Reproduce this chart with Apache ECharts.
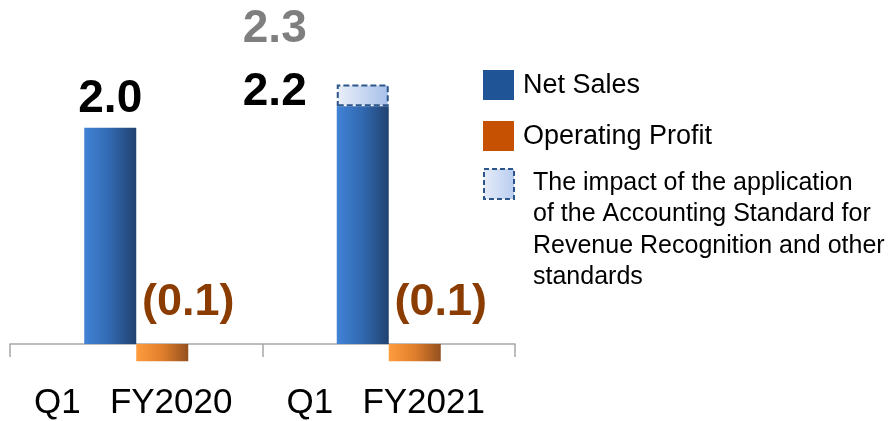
<!DOCTYPE html>
<html>
<head>
<meta charset="utf-8">
<script src="https://cdn.jsdelivr.net/npm/echarts@6.0.0/dist/echarts.min.js"></script>
<style>
  html, body { margin: 0; padding: 0; background: #fff; }
  #chart { width: 890px; height: 421px; }
</style>
</head>
<body>
<div id="chart"></div>
<script>
// values (billion yen)
const categories = ['Q1   FY2020', 'Q1   FY2021']
const netSales = [2.0, 2.2]
const revenueImpact = [null, 0.2]
const operatingProfit = [-0.16, -0.16]
const netSalesLabels = ['2.0', '2.2']
const totalLabels = ['', '2.3']
const profitLabels = ['(0.1)', '(0.1)']

const FONT = '"Liberation Sans", Arial, sans-serif'

const hGrad = (stops) => ({
  type: 'linear', x: 0, y: 0, x2: 1, y2: 0,
  colorStops: stops.map((c, i) => ({ offset: i / (stops.length - 1), color: c }))
})

const blueFill = hGrad(['#4283d6', '#3168b0', '#21426f'])
const orangeFill = hGrad(['#ff9c3e', '#e07f2c', '#955020'])
const impactFill = hGrad(['#eaf0fa', '#a7bfea'])

const chart = echarts.init(document.getElementById('chart'))

const option = {
  animation: false,
  grid: { left: 10, right: 375, top: 73.75, bottom: 76 },
  xAxis: {
    type: 'category',
    data: categories,
    axisLine: { onZero: false, lineStyle: { color: '#a6a6a6', width: 1.5 } },
    axisTick: { show: true, length: 13, lineStyle: { color: '#a6a6a6', width: 1.5 } },
    axisLabel: {
      interval: 0, hideOverlap: false,
      fontFamily: FONT, fontSize: 35, color: '#000', margin: 42,
      padding: [0, 6, 0, 0]
    }
  },
  yAxis: {
    type: 'value', min: 0, max: 2.5,
    show: false, splitLine: { show: false }
  },
  series: [
    {
      name: 'Net Sales',
      type: 'bar',
      stack: 'sales',
      barWidth: 52,
      barGap: '0%',
      clip: false,
      itemStyle: { color: blueFill },
      data: netSales.map((v, i) => ({
        value: v,
        label: {
          show: true,
          position: 'top',
          distance: 5,
          offset: i === 0 ? [0, 0] : [-88, 14],
          formatter: netSalesLabels[i],
          fontFamily: FONT, fontWeight: 'bold', fontSize: 46, color: '#000'
        }
      }))
    },
    {
      name: 'Impact',
      type: 'bar',
      stack: 'sales',
      barWidth: 52,
      clip: false,
      itemStyle: {
        color: impactFill,
        borderColor: '#2c5689', borderWidth: 2, borderType: [6, 3]
      },
      data: revenueImpact.map((v, i) => ({
        value: v,
        label: {
          show: !!totalLabels[i],
          position: 'top',
          distance: 5,
          offset: [-88, -27],
          formatter: totalLabels[i],
          fontFamily: FONT, fontWeight: 'bold', fontSize: 46, color: '#7f7f7f'
        }
      }))
    },
    {
      name: 'Operating Profit',
      type: 'bar',
      stack: 'profit',
      barWidth: 52,
      clip: false,
      itemStyle: { color: orangeFill },
      data: operatingProfit.map((v, i) => ({
        value: v,
        label: {
          show: true,
          position: 'top',
          distance: 10,
          offset: [26, -9],
          formatter: profitLabels[i],
          fontFamily: FONT, fontWeight: 'bold', fontSize: 45, color: '#8b3c00'
        }
      }))
    }
  ],
  graphic: [
    { type: 'rect', shape: { x: 483, y: 70, width: 31, height: 30 }, style: { fill: '#1f5597' } },
    { type: 'text', x: 523, y: 86, style: { text: 'Net Sales', font: '27px ' + FONT, fill: '#000', verticalAlign: 'middle' } },
    { type: 'rect', shape: { x: 483, y: 121, width: 31, height: 30 }, style: { fill: '#c65102' } },
    { type: 'text', x: 523, y: 137, style: { text: 'Operating Profit', font: '27px ' + FONT, fill: '#000', verticalAlign: 'middle' } },
    {
      type: 'rect', shape: { x: 484, y: 169, width: 30, height: 30 },
      style: { fill: hGrad(['#e6edf9', '#b7cbef']), stroke: '#2c5689', lineWidth: 2, lineDash: [5, 3] }
    },
    {
      type: 'text', x: 533, y: 167,
      style: {
        text: 'The impact of the application\nof the Accounting Standard for\nRevenue Recognition and other\nstandards',
        font: '25px ' + FONT, lineHeight: 31.5, fill: '#000', verticalAlign: 'top'
      }
    }
  ]
}

chart.setOption(option)
</script>
</body>
</html>
